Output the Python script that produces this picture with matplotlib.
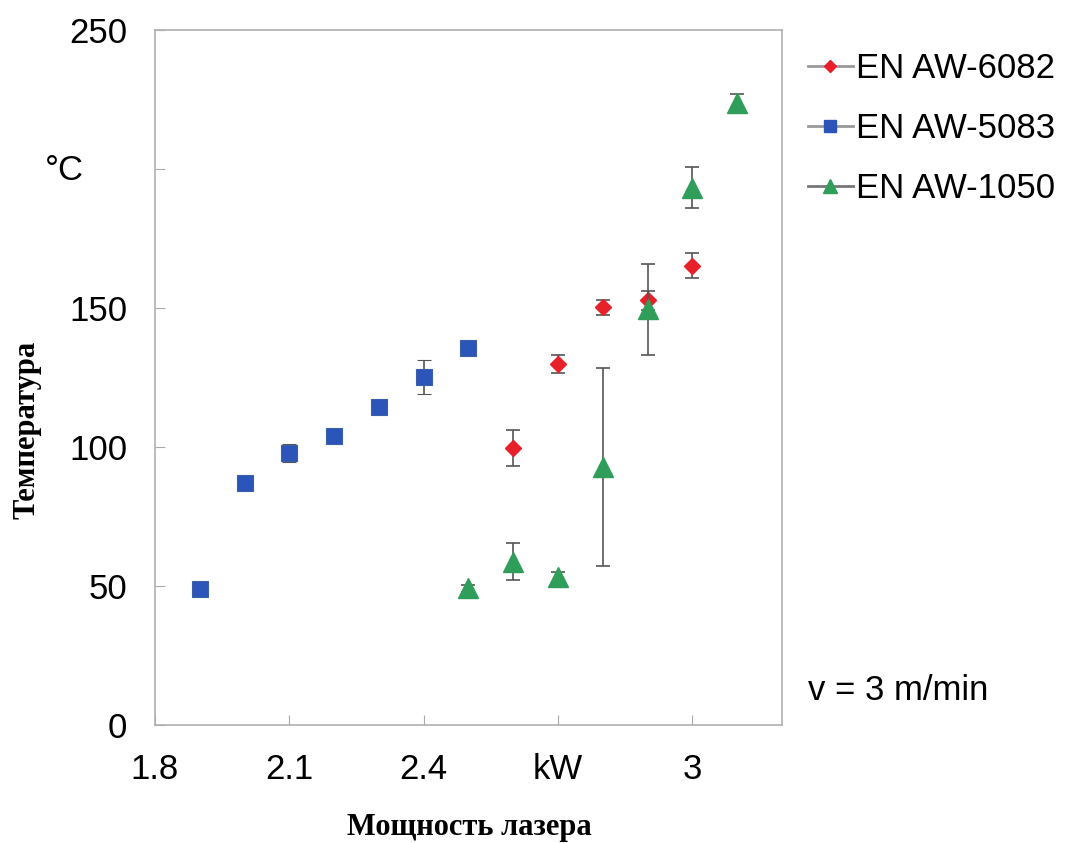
import matplotlib.pyplot as plt
from matplotlib.lines import Line2D

# laser power, kW
x_5083 = [1.9, 2.0, 2.1, 2.2, 2.3, 2.4, 2.5]
t_5083 = [49, 87, 98, 104, 114.5, 125.3, 135.7]
e_5083 = [0.8, 0.8, 3.2, 0.8, 0.8, 6.1, 0.8]

x_6082 = [2.6, 2.7, 2.8, 2.9, 3.0]
t_6082 = [99.6, 129.8, 150.4, 152.8, 165.2]
e_6082 = [6.5, 3.2, 2.7, 3.3, 4.5]

x_1050 = [2.5, 2.6, 2.7, 2.8, 2.9, 3.0, 3.1]
t_1050 = [49.2, 58.8, 53.2, 92.8, 149.6, 193.3, 223.7]
e_1050 = [1.2, 6.6, 1.8, 35.5, 16.4, 7.4, 3.3]

xticks = [1.8, 2.1, 2.4, 2.7, 3.0]
xlabels = ['1.8', '2.1', '2.4', 'kW', '3']
yticks = [0, 50, 100, 150, 200, 250]
ylabels = ['0', '50', '100', '150', '', '250']

c_red = '#e8202a'
c_blue = '#2b55b8'
c_green = '#2f9e5a'
c_err = '#555555'

plt.rcParams['font.family'] = ['Liberation Sans', 'DejaVu Sans']

fig = plt.figure(figsize=(10.8, 8.43), dpi=100)
ax = fig.add_axes([0.1435, 0.14, 0.5805, 0.824])

ax.errorbar(x_5083, t_5083, yerr=e_5083, fmt='s', ms=12, color=c_blue,
            mec='#3a5fa8', mew=0.8, ecolor=c_err, elinewidth=1.2, capsize=5, capthick=1.2, zorder=3)
ax.errorbar(x_6082, t_6082, yerr=e_6082, fmt='D', ms=8, color=c_red,
            mec=c_red, ecolor=c_err, elinewidth=1.2, capsize=5, capthick=1.2, zorder=3)
ax.errorbar(x_1050, t_1050, yerr=e_1050, fmt='^', ms=14, color=c_green,
            mec=c_green, ecolor=c_err, elinewidth=1.2, capsize=5, capthick=1.2, zorder=4)

ax.set_xlim(1.8, 3.2)
ax.set_ylim(0, 250)
ax.set_xticks(xticks)
ax.set_xticklabels(xlabels)
ax.set_yticks(yticks)
ax.set_yticklabels(ylabels)
ax.tick_params(axis='both', direction='in', length=7, color='#aaaaaa', labelsize=25)
ax.tick_params(axis='y', pad=20)
ax.tick_params(axis='x', pad=20)
for sp in ax.spines.values():
    sp.set_color('#b0b0b0')
    sp.set_linewidth(1.2)

# unit label sits in place of the 200 tick
fig.text(0.06, 1 - 170 / 843, '°C', fontsize=25, ha='center', va='center')

handles = [
    Line2D([0], [0], color='#999999', lw=2, marker='D', ms=6, mfc=c_red, mec=c_red),
    Line2D([0], [0], color='#999999', lw=2, marker='s', ms=9, mfc=c_blue, mec=c_blue),
    Line2D([0], [0], color='#777777', lw=2, marker='^', ms=10, mfc=c_green, mec=c_green),
]
fig.legend(handles, ['EN AW-6082', 'EN AW-5083', 'EN AW-1050'],
           loc='upper left', bbox_to_anchor=(0.735, 0.955), frameon=False,
           fontsize=25, handlelength=1.3, handletextpad=0.1, labelspacing=0.78,
           borderaxespad=0)

fig.text(0.748, 1 - 690 / 843, 'v = 3 m/min', fontsize=25, va='center', ha='left')

fig.text(0.025, 1 - 430 / 843, 'Температура', rotation=90, fontsize=22, fontweight='bold',
         family='Liberation Serif', ha='center', va='center')
fig.text(0.435, 1 - 828 / 843, 'Мощность лазера', fontsize=22, fontweight='bold',
         family='Liberation Serif', ha='center', va='center')

fig.savefig('out.png', dpi=100)
